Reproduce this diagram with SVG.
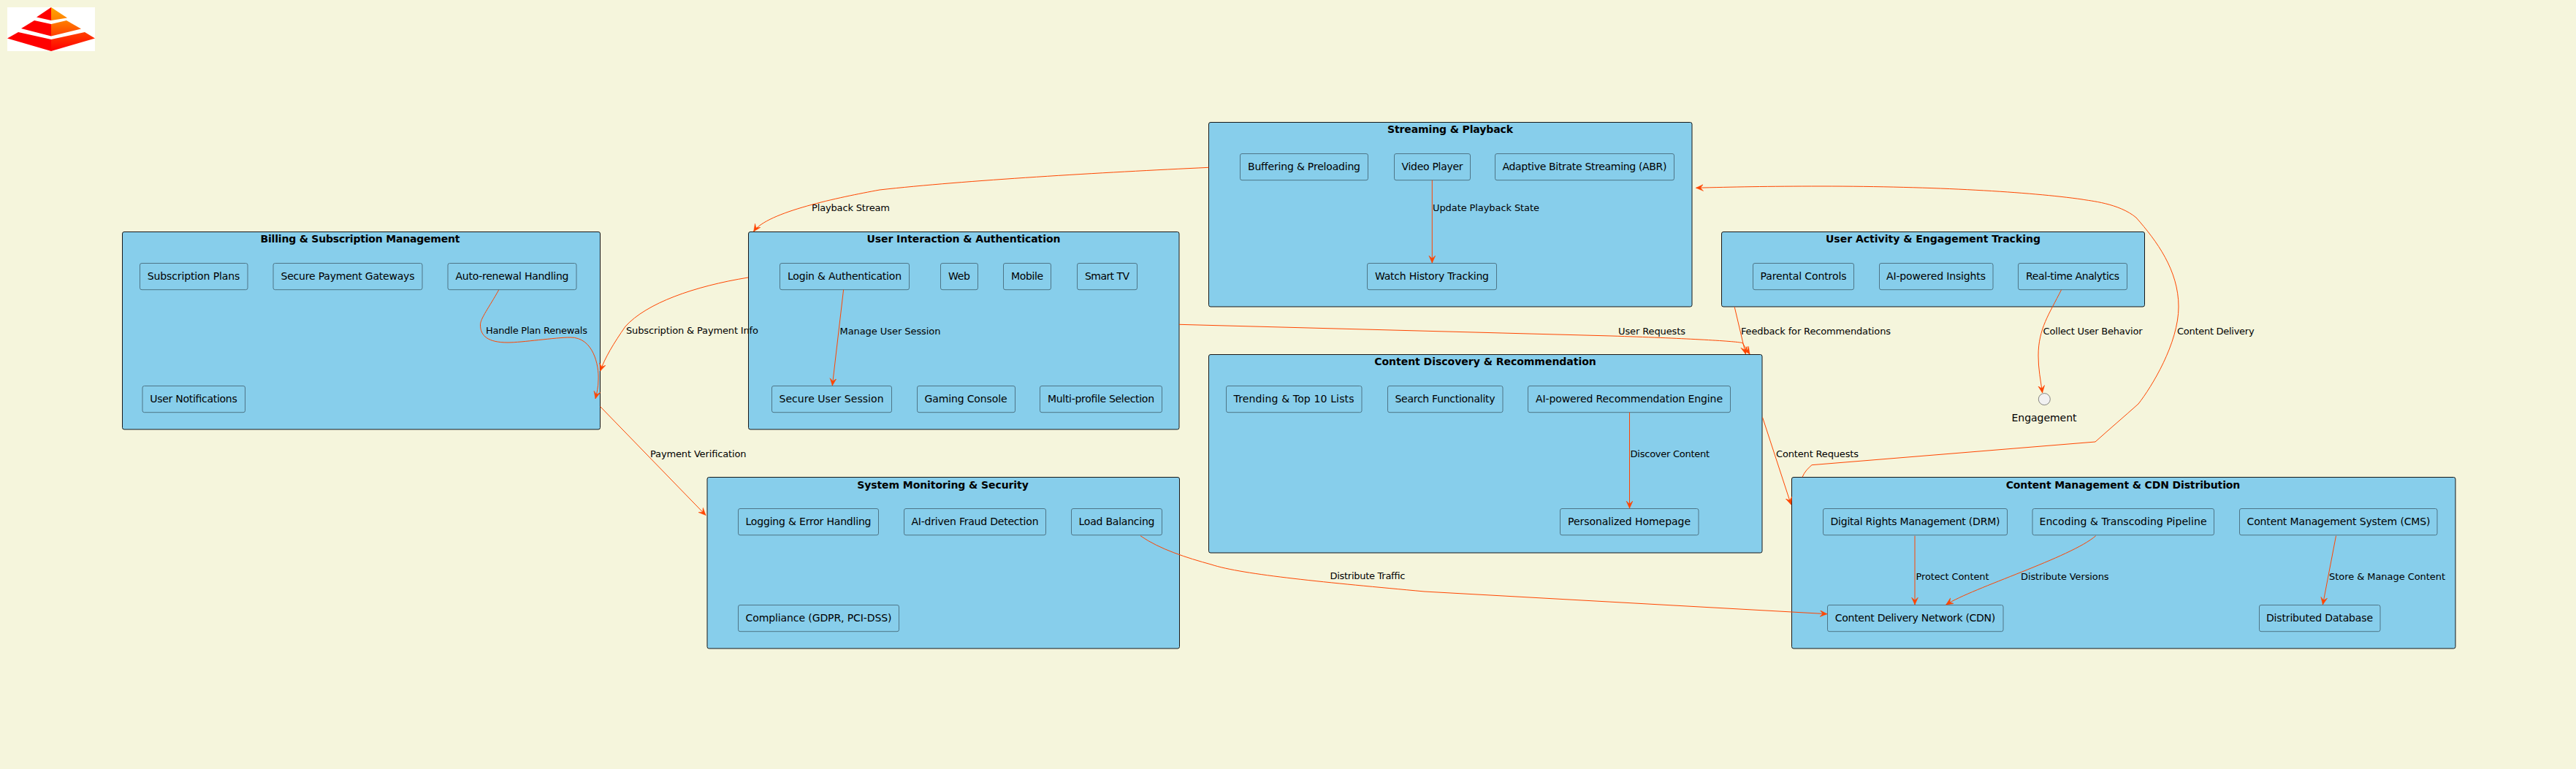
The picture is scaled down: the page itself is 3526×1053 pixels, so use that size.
<svg xmlns="http://www.w3.org/2000/svg" width="3526" height="1053" viewBox="0 0 3526 1053">
<style>
text{font-family:"DejaVu Sans",sans-serif;fill:#000}
.pkg{fill:#87CEEB;stroke:#181818;stroke-width:1}
.nd{fill:#87CEEB;stroke:#4E7587;stroke-width:1}
.pt{font-size:14px;font-weight:bold;text-anchor:middle}
.nt{font-size:14px;text-anchor:middle}
.el{font-size:13px}
.c{fill:none;stroke:#FF4500;stroke-width:1;marker-end:url(#a)}
</style>
<defs>
<marker id="a" markerUnits="userSpaceOnUse" markerWidth="12" markerHeight="10" refX="10" refY="4.5" orient="auto"><path d="M10,4.5 L0,0 L4,4.5 L0,9 Z" fill="#FF4500" stroke="#FF4500" stroke-width=".5"/></marker>
<linearGradient id="g1" x1="0" y1="0" x2="0" y2="1"><stop offset="0" stop-color="#FFA500"/><stop offset="1" stop-color="#FF8000"/></linearGradient>
<linearGradient id="g2" x1="0" y1="0" x2="0" y2="1"><stop offset="0" stop-color="#FF8000"/><stop offset="1" stop-color="#FF4000"/></linearGradient>
<linearGradient id="g3" x1="0" y1="0" x2="0" y2="1"><stop offset="0" stop-color="#FF4000"/><stop offset="1" stop-color="#F00"/></linearGradient>
</defs>
<rect width="3526" height="1053" fill="#F5F5DC"/>
<g id="logo">
<rect x="10" y="10" width="120" height="60" fill="#fff"/>
<path d="M50,23.5L70,10V28Z" fill="#f00"/><path d="M70,10L92,24.5L70,28Z" fill="url(#g1)"/>
<path d="M29,39L47,28L70,33V49.5Z" fill="#f00"/><path d="M70,33L91,28L111,39.5L70,49.5Z" fill="url(#g2)"/>
<path d="M10,52.5L25,44L70,54V70Z" fill="#f00"/><path d="M70,54L116,44L130,52.5L70,70Z" fill="url(#g3)"/>
</g>
<g id="billing">
<rect class="pkg" x="167.5" y="317.5" width="654" height="270.5" rx="2.5"/>
<text class="pt" x="493" y="332" textLength="273">Billing &amp; Subscription Management</text>
</g>
<g id="user-interaction">
<rect class="pkg" x="1024.5" y="317.5" width="589.5" height="270.5" rx="2.5"/>
<text class="pt" x="1319" y="332" textLength="265">User Interaction &amp; Authentication</text>
</g>
<g id="streaming">
<rect class="pkg" x="1654.5" y="167.5" width="661.5" height="252.5" rx="2.5"/>
<text class="pt" x="1985" y="182" textLength="172">Streaming &amp; Playback</text>
</g>
<g id="discovery">
<rect class="pkg" x="1654.5" y="485.5" width="757.5" height="271.5" rx="2.5"/>
<text class="pt" x="2033" y="500" textLength="303.6">Content Discovery &amp; Recommendation</text>
</g>
<g id="activity">
<rect class="pkg" x="2356.5" y="317.5" width="579" height="102.5" rx="2.5"/>
<text class="pt" x="2646" y="332" textLength="294">User Activity &amp; Engagement Tracking</text>
</g>
<g id="monitoring">
<rect class="pkg" x="968" y="653.5" width="646.5" height="234.5" rx="2.5"/>
<text class="pt" x="1290.5" y="669" textLength="234.7">System Monitoring &amp; Security</text>
</g>
<g id="content-mgmt">
<rect class="pkg" x="2452.5" y="653.5" width="908.5" height="234.5" rx="2.5"/>
<text class="pt" x="2906" y="669" textLength="320.6">Content Management &amp; CDN Distribution</text>
</g>
<g id="n-subplans"><rect class="nd" x="191.5" y="360.5" width="147.5" height="36.2" rx="2.5"/><text class="nt" x="265" y="383" textLength="126.5">Subscription Plans</text></g>
<g id="n-gateways"><rect class="nd" x="374" y="360.5" width="204" height="36.2" rx="2.5"/><text class="nt" x="476" y="383" textLength="183">Secure Payment Gateways</text></g>
<g id="n-autorenew"><rect class="nd" x="613" y="360.5" width="176" height="36.2" rx="2.5"/><text class="nt" x="701" y="383" textLength="155">Auto-renewal Handling</text></g>
<g id="n-notify"><rect class="nd" x="195" y="528.5" width="140.5" height="36.2" rx="2.5"/><text class="nt" x="265" y="551" textLength="119.5">User Notifications</text></g>
<g id="n-login"><rect class="nd" x="1067.5" y="360.5" width="177" height="36.2" rx="2.5"/><text class="nt" x="1156" y="383" textLength="156">Login &amp; Authentication</text></g>
<g id="n-web"><rect class="nd" x="1287.5" y="360.5" width="51" height="36.2" rx="2.5"/><text class="nt" x="1313" y="383" textLength="30">Web</text></g>
<g id="n-mobile"><rect class="nd" x="1373.5" y="360.5" width="65" height="36.2" rx="2.5"/><text class="nt" x="1406" y="383" textLength="44">Mobile</text></g>
<g id="n-smarttv"><rect class="nd" x="1474.5" y="360.5" width="82" height="36.2" rx="2.5"/><text class="nt" x="1515.5" y="383" textLength="61">Smart TV</text></g>
<g id="n-session"><rect class="nd" x="1056.5" y="528.5" width="164" height="36.2" rx="2.5"/><text class="nt" x="1138" y="551" textLength="143">Secure User Session</text></g>
<g id="n-gaming"><rect class="nd" x="1255.5" y="528.5" width="134" height="36.2" rx="2.5"/><text class="nt" x="1322" y="551" textLength="113">Gaming Console</text></g>
<g id="n-profile"><rect class="nd" x="1423.5" y="528.5" width="167" height="36.2" rx="2.5"/><text class="nt" x="1507" y="551" textLength="146">Multi-profile Selection</text></g>
<g id="n-buffer"><rect class="nd" x="1697.5" y="210.5" width="175" height="36.2" rx="2.5"/><text class="nt" x="1785" y="233" textLength="154">Buffering &amp; Preloading</text></g>
<g id="n-player"><rect class="nd" x="1908.5" y="210.5" width="104" height="36.2" rx="2.5"/><text class="nt" x="1960.5" y="233" textLength="84">Video Player</text></g>
<g id="n-abr"><rect class="nd" x="2046.5" y="210.5" width="245" height="36.2" rx="2.5"/><text class="nt" x="2169" y="233" textLength="225">Adaptive Bitrate Streaming (ABR)</text></g>
<g id="n-history"><rect class="nd" x="1871.5" y="360.5" width="177" height="36.2" rx="2.5"/><text class="nt" x="1960" y="383" textLength="156">Watch History Tracking</text></g>
<g id="n-trending"><rect class="nd" x="1678.5" y="528.5" width="185.5" height="36.2" rx="2.5"/><text class="nt" x="1771" y="551" textLength="165">Trending &amp; Top 10 Lists</text></g>
<g id="n-search"><rect class="nd" x="1899.5" y="528.5" width="157.5" height="36.2" rx="2.5"/><text class="nt" x="1978" y="551" textLength="137">Search Functionality</text></g>
<g id="n-recengine"><rect class="nd" x="2091.5" y="528.5" width="277" height="36.2" rx="2.5"/><text class="nt" x="2230" y="551" textLength="256">AI-powered Recommendation Engine</text></g>
<g id="n-homepage"><rect class="nd" x="2135.5" y="696.5" width="189.5" height="36.2" rx="2.5"/><text class="nt" x="2230" y="719" textLength="168">Personalized Homepage</text></g>
<g id="n-parental"><rect class="nd" x="2399.5" y="360.5" width="138" height="36.2" rx="2.5"/><text class="nt" x="2468.5" y="383" textLength="118">Parental Controls</text></g>
<g id="n-insights"><rect class="nd" x="2572.5" y="360.5" width="155.5" height="36.2" rx="2.5"/><text class="nt" x="2650" y="383" textLength="136">AI-powered Insights</text></g>
<g id="n-realtime"><rect class="nd" x="2762.5" y="360.5" width="149" height="36.2" rx="2.5"/><text class="nt" x="2837" y="383" textLength="128">Real-time Analytics</text></g>
<g id="n-engagement"><circle cx="2798.3" cy="546.6" r="8" fill="#F1F1F1" stroke="#181818" stroke-width=".5"/><text class="nt" x="2798" y="577" textLength="89">Engagement</text></g>
<g id="n-logging"><rect class="nd" x="1010.5" y="696.5" width="192" height="36.2" rx="2.5"/><text class="nt" x="1106.5" y="719" textLength="172">Logging &amp; Error Handling</text></g>
<g id="n-fraud"><rect class="nd" x="1237.5" y="696.5" width="194" height="36.2" rx="2.5"/><text class="nt" x="1334.5" y="719" textLength="174">AI-driven Fraud Detection</text></g>
<g id="n-balancing"><rect class="nd" x="1466.5" y="696.5" width="124" height="36.2" rx="2.5"/><text class="nt" x="1528.5" y="719" textLength="104">Load Balancing</text></g>
<g id="n-compliance"><rect class="nd" x="1010.5" y="828.5" width="220" height="36.2" rx="2.5"/><text class="nt" x="1120.5" y="851" textLength="200">Compliance (GDPR, PCI-DSS)</text></g>
<g id="n-drm"><rect class="nd" x="2495.5" y="696.5" width="252" height="36.2" rx="2.5"/><text class="nt" x="2621.5" y="719" textLength="232">Digital Rights Management (DRM)</text></g>
<g id="n-encoding"><rect class="nd" x="2782" y="696.5" width="248.5" height="36.2" rx="2.5"/><text class="nt" x="2906" y="719" textLength="229">Encoding &amp; Transcoding Pipeline</text></g>
<g id="n-cms"><rect class="nd" x="3065.5" y="696.5" width="270.5" height="36.2" rx="2.5"/><text class="nt" x="3201" y="719" textLength="251">Content Management System (CMS)</text></g>
<g id="n-cdn"><rect class="nd" x="2501.5" y="828.5" width="240.5" height="36.2" rx="2.5"/><text class="nt" x="2621.5" y="851" textLength="219.5">Content Delivery Network (CDN)</text></g>
<g id="n-database"><rect class="nd" x="3092.5" y="828.5" width="165.5" height="36.2" rx="2.5"/><text class="nt" x="3175" y="851" textLength="146">Distributed Database</text></g>
<g id="connectors">
<path class="c" d="M682.7,397 C670,420 657,437 657.5,445 C657.5,460 668,469 695,469 C715,469 760,462 781,462 C812,462 820,500 819,520 C819,530 817,538 815,546"/>
<path class="c" d="M1024,380 C950,392 885,415 856,447 C840,470 828,490 821.6,508"/>
<path class="c" d="M821.6,556.7 L966,705.5"/>
<path class="c" d="M1654.6,229.3 C1510,236 1320,247 1204,260 C1150,270 1050,290 1031.6,317"/>
<path class="c" d="M1154.6,396.7 L1139.3,528"/>
<path class="c" d="M1960.3,246.7 V360"/>
<path class="c" d="M1614,444.3 L2206,460 C2300,463 2375,467 2385,469.5 L2395,485"/>
<path class="c" d="M2374.2,420.3 L2389.5,485"/>
<path class="c" d="M2412.6,571.7 L2451.6,691"/>
<path class="c" d="M2230.5,564.7 V696"/>
<path class="c" d="M2821.6,396.7 C2805,430 2790,450 2790,487 C2790,505 2793,520 2795.6,538"/>
<path class="c" d="M2467,653.3 C2470,646 2475,641 2480,636.7 L2868,605 C2888,587 2908,570 2927,553 C2945,530 2982,470 2982,420 C2982,370 2952,330 2924,298 C2900,278 2860,275 2850,273 C2780,263 2650,255 2493,255 C2420,255 2370,256 2321.5,257.3"/>
<path class="c" d="M1561,733.7 C1587,752 1625,764 1658,773 C1700,787 1820,798 1950,810 L2501,840.7"/>
<path class="c" d="M2621,733.7 V828"/>
<path class="c" d="M2868.7,733.7 C2835,763 2700,805 2663.7,828"/>
<path class="c" d="M3197.5,733.7 L3179.4,828"/>
<text class="el" x="665" y="457" textLength="139">Handle Plan Renewals</text>
<text class="el" x="857" y="457" textLength="181">Subscription &amp; Payment Info</text>
<text class="el" x="890" y="625.7" textLength="131.5">Payment Verification</text>
<text class="el" x="1111" y="288.7" textLength="107">Playback Stream</text>
<text class="el" x="1149.5" y="457.7" textLength="138">Manage User Session</text>
<text class="el" x="1961" y="288.7" textLength="146">Update Playback State</text>
<text class="el" x="2215" y="457.7" textLength="92">User Requests</text>
<text class="el" x="2383" y="457.7" textLength="205">Feedback for Recommendations</text>
<text class="el" x="2796.6" y="457.7" textLength="136">Collect User Behavior</text>
<text class="el" x="2980" y="457.7" textLength="105.6">Content Delivery</text>
<text class="el" x="2431" y="625.7" textLength="113">Content Requests</text>
<text class="el" x="2231.6" y="625.7" textLength="108.6">Discover Content</text>
<text class="el" x="1820.5" y="793" textLength="103">Distribute Traffic</text>
<text class="el" x="2622.5" y="793.7" textLength="100">Protect Content</text>
<text class="el" x="2766" y="793.7" textLength="120.6">Distribute Versions</text>
<text class="el" x="3188" y="793.7" textLength="159">Store &amp; Manage Content</text>
</g>
</svg>
